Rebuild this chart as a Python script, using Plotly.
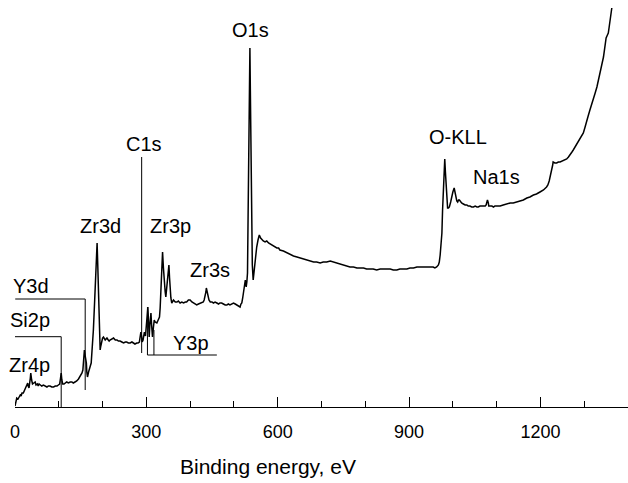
import plotly.graph_objects as go

# Survey XPS spectrum: binding energy (eV) and intensity (arbitrary units)
energy_ev = [
    0, 2, 4, 7, 10, 12, 14, 16, 19, 22, 26, 29, 30, 32, 35, 36, 38, 40, 43, 46,
    48, 51, 53, 55, 58, 61, 65, 69, 73, 76, 80, 84, 88, 92, 96, 99, 102, 104, 105.5, 107,
    109, 112, 115, 118, 122, 126, 130, 133, 137, 141, 145, 148, 150, 153, 155, 157, 158.5, 160, 163, 164,
    165.5, 168, 170, 172, 174, 176, 179, 182, 184.5, 187.5, 189, 190.5, 192.5, 194.5, 196, 198, 200, 202, 204, 206,
    208, 210, 213, 215, 217, 221, 225, 229, 233, 236, 240, 244, 248, 252, 255, 259, 263, 267, 271, 274,
    278, 281, 284, 286, 287.5, 289, 290.5, 292.5, 295.5, 298, 300.5, 303.5, 305, 306.5, 308, 310.5, 312, 314, 316, 318,
    320, 324, 327, 330, 331.5, 333, 335, 337, 339, 340.5, 343, 344.5, 346.5, 348, 351.5, 353, 354.5, 356, 358, 360,
    362, 366, 370, 373, 377, 381, 385, 389, 392, 396, 400, 404, 408, 411, 415, 419, 423, 427, 430, 432,
    434, 436, 437, 439, 440, 443, 446, 450, 453, 457, 461, 465, 468, 472, 476, 480, 484, 487, 491, 495,
    499, 503, 507, 510, 514, 516, 518, 520, 522, 524, 526, 527, 528, 529.5, 531, 532.5, 534, 535, 536.5, 537.5,
    538.5, 540, 541, 542, 544, 545.5, 547, 549.5, 552, 555, 558, 561, 564, 567, 571, 575, 579, 583, 586, 590,
    594, 598, 602, 605, 613, 621, 628, 636, 644, 651, 659, 666, 674, 682, 689, 697, 704, 712, 720, 727,
    735, 742, 750, 758, 765, 773, 781, 788, 796, 803, 811, 818, 826, 834, 841, 849, 857, 864, 872, 879,
    887, 895, 902, 910, 918, 925, 933, 940, 948, 955, 959, 963, 967, 969, 971, 973, 975, 976.5, 978, 980,
    981.5, 983, 985, 986, 988, 990, 992, 995, 997, 1000, 1003, 1005, 1007, 1009, 1011, 1013, 1015, 1018, 1020, 1024,
    1028, 1032, 1035, 1039, 1043, 1047, 1051, 1055, 1058, 1062, 1066, 1070, 1074, 1076, 1077, 1079, 1081, 1082, 1085, 1089,
    1093, 1096, 1100, 1104, 1108, 1115, 1123, 1131, 1138, 1146, 1153, 1161, 1169, 1176, 1184, 1191, 1199, 1207, 1214, 1217,
    1220, 1223, 1226, 1228, 1229, 1233, 1237, 1241, 1245, 1249, 1252, 1256, 1260, 1264, 1268, 1272, 1275, 1279, 1283, 1287,
    1290, 1294, 1298, 1302, 1306, 1309, 1313, 1317, 1321, 1325, 1329, 1332, 1336, 1340, 1344, 1347, 1350, 1353, 1355, 1357,
    1359, 1361, 1363,
]
intensity_au = [
    1, 7, 9, 8, 11, 12, 11, 14, 14, 17, 22, 24, 21, 19, 29, 34, 27, 23, 24, 25,
    22, 23, 21, 23, 22, 21, 22, 21, 20, 21, 21, 20, 20, 21, 21, 22, 23, 29, 34, 27,
    23, 23, 24, 25, 24, 25, 25, 24, 25, 26, 28, 30, 32, 34, 37, 47, 57, 52, 44, 35,
    30, 35, 40, 41, 44, 55, 77, 107, 144, 164, 142, 110, 77, 57, 61, 67, 69, 70, 68, 67,
    68, 69, 67, 66, 67, 68, 69, 67, 67, 66, 66, 65, 64, 65, 65, 64, 64, 65, 64, 63,
    64, 64, 65, 69, 75, 71, 65, 67, 75, 71, 87, 100, 85, 70, 82, 94, 82, 70, 79, 87,
    85, 84, 87, 90, 99, 114, 137, 155, 139, 124, 115, 110, 122, 130, 142, 129, 117, 109, 104, 106,
    107, 105, 105, 106, 104, 105, 104, 105, 105, 107, 107, 105, 104, 103, 102, 103, 104, 105, 105, 107,
    110, 115, 119, 115, 110, 107, 105, 105, 104, 105, 104, 103, 104, 104, 103, 102, 102, 103, 102, 103,
    104, 103, 102, 101, 100, 103, 104, 109, 114, 122, 127, 123, 120, 125, 134, 197, 267, 317, 359, 317,
    267, 217, 167, 142, 127, 134, 140, 152, 160, 167, 172, 169, 167, 166, 165, 166, 164, 163, 162, 161,
    160, 159, 159, 157, 156, 154, 153, 151, 150, 149, 148, 147, 146, 145, 145, 144, 145, 145, 146, 145,
    144, 143, 142, 141, 140, 140, 139, 139, 139, 138, 138, 138, 137, 138, 138, 138, 138, 137, 137, 138,
    138, 138, 139, 139, 140, 140, 140, 140, 140, 140, 139, 140, 142, 145, 152, 162, 174, 197, 217, 237,
    248, 235, 220, 207, 199, 199, 200, 205, 210, 215, 219, 213, 209, 206, 205, 207, 207, 205, 204, 203,
    202, 202, 201, 201, 200, 200, 201, 200, 200, 201, 201, 201, 201, 202, 205, 207, 204, 201, 201, 201,
    200, 201, 201, 201, 201, 202, 203, 204, 204, 205, 206, 207, 209, 210, 212, 213, 215, 217, 220, 222,
    226, 231, 237, 242, 245, 244, 244, 245, 245, 246, 246, 247, 248, 250, 252, 255, 257, 260, 263, 266,
    269, 271, 274, 280, 285, 291, 297, 302, 307, 314, 320, 327, 334, 342, 350, 360, 369, 372, 374, 380,
    387, 394, 399,
]

# Axis ticks
major_ticks = [0, 300, 600, 900, 1200]

# Peak assignments and where each label sits (eV, a.u.)
peak_names = ["Zr4p", "Si2p", "Y3d", "Zr3d", "C1s", "Y3p", "Zr3p", "Zr3s", "O1s", "O-KLL", "Na1s"]
label_ev = [32.4, 33.6, 35.8, 195.7, 293.8, 402.3, 354.3, 445.7, 537.0, 1010.7, 1098.7]
label_au = [42.5, 87.5, 121.5, 181.0, 263.5, 64.0, 181.0, 137.0, 377.5, 270.0, 230.0]

# Leader lines tying labels to their peaks (polylines in eV / a.u.)
leaders = [
    [(0.5, 108), (160.3, 108), (160.3, 17)],          # Y3d
    [(-3.4, 70.3), (105.5, 70.3), (105.5, 0)],        # Si2p
    [(289.3, 250), (289.3, 54)],                      # C1s
    [(302.5, 100), (302.5, 52), (461.0, 52)],         # Y3p
    [(317.3, 77), (317.3, 52)],                       # Y3p
]

FONT = "Liberation Sans, Arial, Helvetica, sans-serif"

fig = go.Figure()
fig.add_trace(go.Scatter(
    x=energy_ev, y=intensity_au, mode="lines",
    line=dict(color="black", width=1.5),
    hoverinfo="skip", showlegend=False,
))

for path in leaders:
    for (x0, y0), (x1, y1) in zip(path[:-1], path[1:]):
        fig.add_shape(type="line", xref="x", yref="y", x0=x0, y0=y0, x1=x1, y1=y1,
                      line=dict(color="black", width=1))

for name, xv, yv in zip(peak_names, label_ev, label_au):
    fig.add_annotation(x=xv, y=yv, xref="x", yref="y", text=name, showarrow=False,
                       xanchor="center", yanchor="middle",
                       font=dict(family=FONT, size=20, color="black"))

# Axis title, placed left of the plot centre
fig.add_annotation(x=0.413, y=-0.147, xref="paper", yref="paper",
                   text="Binding energy, eV", showarrow=False,
                   xanchor="center", yanchor="middle",
                   font=dict(family=FONT, size=21, color="black"))

fig.update_layout(
    width=628, height=483,
    margin=dict(l=15, r=0, t=0, b=76),
    paper_bgcolor="white", plot_bgcolor="white",
    font=dict(family=FONT, color="black"),
    showlegend=False,
)
fig.update_xaxes(
    range=[0, 1400], showgrid=False, zeroline=False,
    showline=True, linecolor="black", linewidth=1,
    ticks="inside", ticklen=10, tickwidth=1, tickcolor="black",
    tickvals=major_ticks, ticktext=[str(v) for v in major_ticks],
    tickfont=dict(family=FONT, size=18, color="black"),
    ticklabelstandoff=8,
    minor=dict(ticks="inside", ticklen=6, tickwidth=1, tickcolor="black", dtick=100, tick0=0),
)
fig.update_yaxes(range=[0, 407], visible=False)

fig.write_html("out.html", config={"displayModeBar": False})
